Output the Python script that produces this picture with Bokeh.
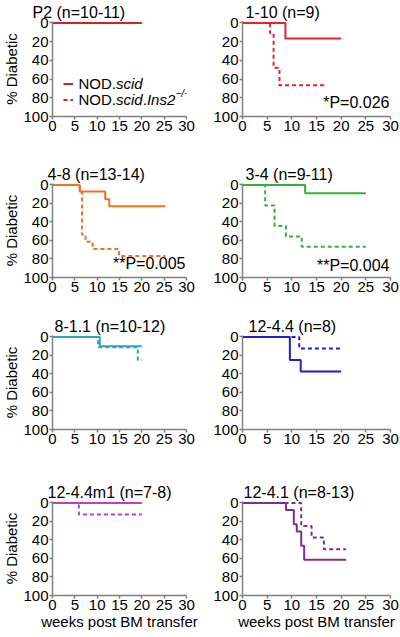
from bokeh.plotting import figure
from bokeh.layouts import gridplot
from bokeh.models import Range1d, FixedTicker, Label, Legend, LegendItem
from bokeh.embed import file_html
from bokeh.resources import INLINE

FONT = "Liberation Sans"

# ---- data (weeks post BM transfer, % diabetic) ----
titles = ["P2 (n=10-11)", "1-10 (n=9)", "4-8 (n=13-14)", "3-4 (n=9-11)",
          "8-1.1 (n=10-12)", "12-4.4 (n=8)", "12-4.4m1 (n=7-8)", "12-4.1 (n=8-13)"]
colors = ["#cf2229", "#e8202c", "#f37021", "#33b23a",
          "#2fa3c3", "#1e1ed2", "#bf3fbf", "#7b2d9e"]

scid_x = [[0, 20], [0, 8.7, 20], [0, 6.1, 11.8, 12.7, 25.3], [0, 12.7, 25],
          [0, 10.6, 20], [0, 9.6, 11.8, 20], [0, 20],
          [0, 8.8, 10.4, 11.0, 11.9, 12.5, 21]]
scid_y = [[0, 0], [0, 16.7, 16.7], [0, 7.1, 15.4, 23.1, 23.1], [0, 9.1, 9.1],
          [0, 10, 10], [0, 25, 37.5, 37.5], [0, 0],
          [0, 7.7, 23.1, 30.8, 46.2, 61.5, 61.5]]

ins2_x = [[0, 20], [0, 5.6, 6.3, 7.5, 16.8], [0, 6.1, 6.6, 7.4, 9.0, 14.9, 25.3],
          [0, 4.6, 6.5, 8.8, 12.0, 25], [0, 10.2, 19.1, 20], [0, 11.5, 20],
          [0, 5.9, 20], [0, 11.9, 14.0, 16.5, 21]]
ins2_y = [[0, 0], [0, 11.1, 48, 66.7, 66.7], [0, 7.7, 53.8, 61.5, 69.2, 76.9, 76.9],
          [0, 22.2, 44.4, 55.6, 66.7, 66.7], [0, 11.1, 25, 25], [0, 12.5, 12.5],
          [0, 12.5, 12.5], [0, 25, 37.5, 50, 50]]

pvalues = [None, "*P=0.026", "**P=0.005", "**P=0.004", None, None, None, None]
pvalue_y = [None, 85, 85, 87, None, None, None, None]

x_ticks = [0, 5, 10, 15, 20, 25, 30]
y_ticks = [0, 20, 40, 60, 80, 100]
x_label = "weeks post BM transfer"
y_label = "% Diabetic"
title_offsets = [-20, 3, -5, 3, 2, 6, -5, 1]

# ---- layout ----
row_top = [21, 19, 19, 19]
row_bot = [47, 38, 52, 42]
FRAME_H = 95
col_w = [200, 200]
col_left = [44, 42]
col_right = [14, 10]

figs = []
for i in range(8):
    r, c = divmod(i, 2)
    p = figure(width=col_w[c], height=row_top[r] + FRAME_H + row_bot[r],
               x_range=Range1d(0, 30), y_range=Range1d(100, -1.5),
               output_backend="svg", toolbar_location=None,
               min_border_left=col_left[c], min_border_right=col_right[c],
               min_border_top=row_top[r], min_border_bottom=row_bot[r])
    p.outline_line_color = None
    p.xgrid.visible = False
    p.ygrid.visible = False
    p.title.text = titles[i]
    p.title.align = "left"
    p.title.offset = title_offsets[i]
    p.title.standoff = 1
    p.title.text_font = FONT
    p.title.text_font_size = "16px"
    p.title.text_font_style = "normal"
    p.title.text_color = "black"

    p.xaxis.ticker = FixedTicker(ticks=x_ticks)
    p.yaxis.ticker = FixedTicker(ticks=y_ticks)
    for ax in (p.xaxis[0], p.yaxis[0]):
        ax.axis_line_color = "#808080"
        ax.axis_line_width = 1.5
        ax.major_tick_line_color = "#808080"
        ax.major_tick_line_width = 1.5
        ax.major_tick_in = 0
        ax.major_tick_out = 3
        ax.minor_tick_line_color = None
        ax.major_label_text_font = FONT
        ax.major_label_text_font_size = "15px"
        ax.major_label_text_color = "black"
        ax.major_label_standoff = 1
        ax.axis_label_text_font = FONT
        ax.axis_label_text_font_style = "normal"
        ax.axis_label_text_color = "black"
        ax.axis_label_standoff = 0
    if c == 0:
        p.yaxis.axis_label = y_label
        p.yaxis.axis_label_text_font_size = "15px"
    if r == 3:
        p.xaxis.axis_label = x_label
        p.xaxis.axis_label_text_font_size = "15px"

    rs = p.step(scid_x[i], scid_y[i], mode="after", line_color=colors[i], line_width=2)
    rd = p.step(ins2_x[i], ins2_y[i], mode="after", line_color=colors[i], line_width=2,
                line_dash="4 3")

    if pvalues[i]:
        p.add_layout(Label(x=30, y=pvalue_y[i], x_offset=-1, text=pvalues[i],
                           text_align="right", text_baseline="middle",
                           text_font=FONT, text_font_size="16px", text_color="black"))

    if i == 0:
        leg = Legend(items=[LegendItem(label=" ", renderers=[rs]),
                            LegendItem(label=" ", renderers=[rd])],
                     location=(11, 9), glyph_width=10, glyph_height=15,
                     label_width=0, label_height=15, label_standoff=0,
                     spacing=1, padding=0, margin=0, border_line_alpha=0,
                     background_fill_alpha=0, label_text_font_size="1px")
        p.add_layout(leg)
        parts1 = [("NOD.", "normal", 0), ("scid", "italic", 37.5)]
        for txt, sty, dx in parts1:
            p.add_layout(Label(x=0, y=65, x_offset=26 + dx, text=txt,
                               text_baseline="middle", text_font=FONT,
                               text_font_size="15px", text_font_style=sty,
                               text_color="black"))
        parts2 = [("NOD.", "normal", 0), ("scid", "italic", 37.5),
                  (".", "normal", 64.2), ("Ins2", "italic", 68.4)]
        for txt, sty, dx in parts2:
            p.add_layout(Label(x=0, y=82, x_offset=26 + dx, text=txt,
                               text_baseline="middle", text_font=FONT,
                               text_font_size="15px", text_font_style=sty,
                               text_color="black"))
        p.add_layout(Label(x=0, y=82, x_offset=26 + 97, y_offset=6, text="\u2212/\u2212",
                           text_baseline="middle", text_font=FONT,
                           text_font_size="10px", text_font_style="italic",
                           text_color="black"))
    figs.append(p)

grid = gridplot([[figs[0], figs[1]], [figs[2], figs[3]],
                 [figs[4], figs[5]], [figs[6], figs[7]]], toolbar_location=None)

open("out.html", "w").write(file_html(grid, INLINE))
